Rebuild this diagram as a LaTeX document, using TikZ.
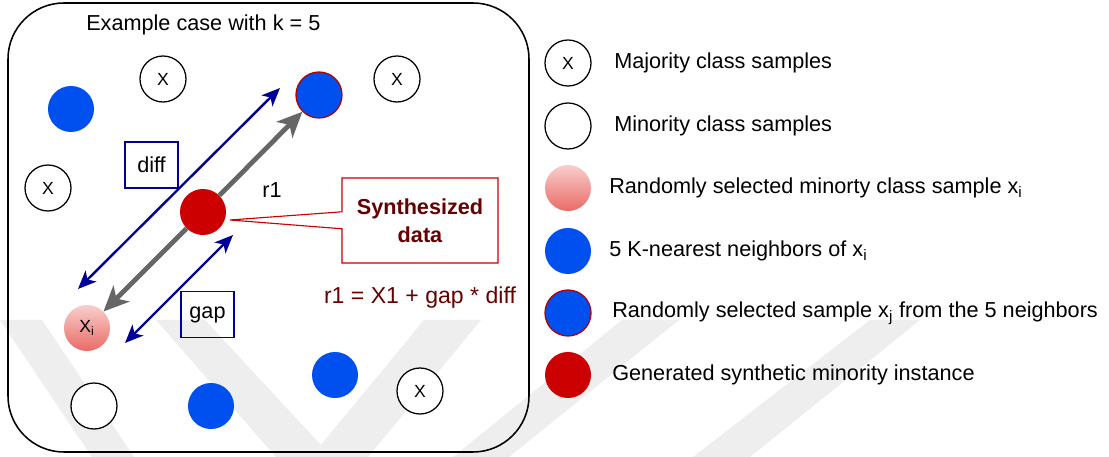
\documentclass[tikz,border=0pt]{standalone}
\usepackage{fontspec}
\setmainfont{Liberation Sans}
\usetikzlibrary{arrows.meta, positioning, shapes.callouts}

\definecolor{nbBlue}{HTML}{0050EF}
\definecolor{pickRed}{HTML}{B20000}
\definecolor{synRed}{HTML}{CC0000}
\definecolor{seedTop}{HTML}{F8CECC}
\definecolor{seedBot}{HTML}{EA6B66}
\definecolor{navy}{HTML}{000099}
\definecolor{darkRed}{HTML}{660000}
\definecolor{wmark}{HTML}{EEEEEE}

\tikzset{
  base/.style     = {font=\fontsize{15.4pt}{18pt}\selectfont},
  sample/.style   = {circle, minimum size=1.15cm, inner sep=0pt},
  majority/.style = {sample, draw=black, line width=0.9pt, fill=white, font=\fontsize{12.5pt}{14pt}\selectfont},
  minority/.style = {sample, draw=black, line width=0.9pt, fill=white},
  neighbor/.style = {sample, fill=nbBlue},
  picked/.style   = {sample, fill=nbBlue, draw=pickRed, line width=0.9pt},
  seed/.style     = {sample, top color=seedTop, bottom color=seedBot, font=\fontsize{12.5pt}{14pt}\selectfont},
  synth/.style    = {sample, fill=synRed},
  tag/.style      = {base, rectangle, draw=navy, line width=1pt, minimum width=1.325cm, minimum height=1.15cm, inner sep=0pt},
  txt/.style      = {base, anchor=west, inner sep=0pt},
  note/.style     = {rectangle callout, draw=synRed, line width=0.8pt, fill=white, minimum width=3.9cm, minimum height=2.125cm,
                     callout pointer width=0.425cm, align=center, text=darkRed, font=\fontsize{15.4pt}{20pt}\selectfont\bfseries},
  arr/.style      = {navy, line width=1.7pt, {Stealth[length=13pt,width=11pt,inset=3.5pt]}-{Stealth[length=13pt,width=11pt,inset=3.5pt]}},
  move/.style     = {black!60, line width=3.4pt, -{Stealth[length=18pt,width=16pt,inset=5pt]}}
}

\begin{document}
\begin{tikzpicture}[x=0.025cm, y=-0.025cm]

\fill[white] (0,0) rectangle (1109,457);
\useasboundingbox (0,0) rectangle (1109,457);

% watermark stripes
\fill[wmark] (0,320) -- (42,320) -- (134,457) -- (92,457) -- cycle;
\fill[wmark] (156,320) -- (205,320) -- (332,457) -- (276,457) -- cycle;
\fill[wmark] (311,457) -- (368,457) -- (481,320) -- (424,320) -- cycle;
\fill[wmark] (453,457) -- (509,457) -- (679,320) -- (622,320) -- cycle;
\fill[wmark] (693,457) -- (750,457) -- (920,320) -- (870,320) -- cycle;

% frame of the example
\draw[line width=1.1pt, rounded corners=1.4cm] (8,3) rectangle (529,452);
\node[txt] (title) at (86,25) {Example case with k = 5};

% samples in feature space
\node[majority] (m1) at (163,79)  {X};
\node[majority] (m2) at (397,79)  {X};
\node[majority] (m3) at (48,188)  {X};
\node[majority] (m4) at (420,391) {X};

\node[neighbor] (k1) at (71,109)  {};
\node[neighbor] (k2) at (335,375) {};
\node[neighbor] (k3) at (211,406) {};
\node[picked]   (xj) at (319,95)  {};

\node[minority] (w1) at (94,406) {};
\node[seed]     (xi) at (87,328) {X\textsubscript{i}};
\node[synth]    (syn) at (203,212) {};

% r1 runs from the new point to both ends
\draw[move] (syn) -- (xj);
\draw[move] (syn) -- (xi);
\node[base] (r1) at (272,190) {r1};

% diff and gap
\coordinate (d1) at (78,289);
\coordinate (d2) at (280,88);
\coordinate (g1) at (125,343);
\coordinate (g2) at (233,235);
\draw[arr] (d1) -- (d2);
\draw[arr] (g1) -- (g2);
\node[tag] (diff) at (151.5,165)  {diff};
\node[tag] (gap)  at (207.5,314.5) {gap};

% callout for the new point
\coordinate (tip) at (230,220);
\node[note, callout absolute pointer={(tip)}] (out) at (420,220.5) {Synthesized\\data};
\node[base, text=darkRed, font=\fontsize{16.4pt}{19pt}\selectfont] (eq) at (420,298) {r1 = X1 + gap * diff};

% legend
\node[majority] (l1) at (568,63)  {X};
\node[minority] (l2) at (568,126) {};
\node[seed]     (l3) at (568,188) {};
\node[neighbor] (l4) at (568,251) {};
\node[picked]   (l5) at (568,313) {};
\node[synth]    (l6) at (568,375) {};

\node[txt] (t1) at (614,63)  {Majority class samples};
\node[txt] (t2) at (614,126) {Minority class samples};
\node[txt] (t3) at (609,188) {Randomly selected minorty class sample x\textsubscript{i}};
\node[txt] (t4) at (609,251) {5 K-nearest neighbors of x\textsubscript{i}};
\node[txt] (t5) at (612,313) {Randomly selected sample x\textsubscript{j} from the 5 neighbors};
\node[txt] (t6) at (612,375) {Generated synthetic minority instance};

\end{tikzpicture}
\end{document}
